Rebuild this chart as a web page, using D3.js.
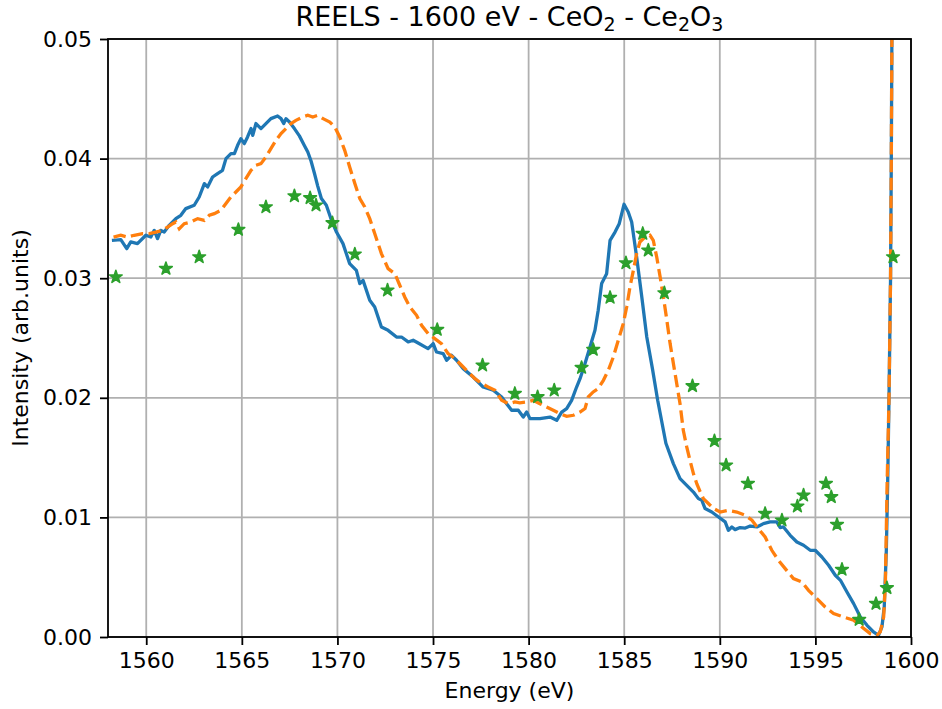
<!DOCTYPE html>
<html>
<head>
<meta charset="utf-8">
<script src="https://cdn.jsdelivr.net/npm/d3@7"></script>
<style>
  html, body { margin: 0; padding: 0; background: #fff; }
  svg { display: block; font-family: "DejaVu Sans", sans-serif; }
</style>
</head>
<body>
<svg id="chart" width="942" height="709"></svg>
<script>
// CeO2 spectrum (solid blue)
const ceo2Energy = [1558.29,1558.67,1558.98,1559.19,1559.54,1559.98,1560.24,1560.42,1560.59,1560.76,1560.94,1561.20,1561.55,1561.81,1562.07,1562.51,1562.77,1563.04,1563.21,1563.47,1563.73,1563.99,1564.17,1564.43,1564.61,1564.78,1564.95,1565.13,1565.30,1565.48,1565.57,1565.74,1566.00,1566.26,1566.52,1566.87,1567.05,1567.19,1567.31,1567.49,1567.75,1568.01,1568.27,1568.45,1568.62,1568.80,1568.97,1569.16,1569.42,1569.69,1569.95,1570.29,1570.64,1570.99,1571.17,1571.34,1571.69,1571.95,1572.30,1572.65,1573.09,1573.35,1573.70,1573.96,1574.22,1574.74,1575.01,1575.18,1575.53,1575.71,1575.97,1576.23,1576.58,1577.10,1577.62,1578.15,1578.59,1578.85,1579.11,1579.46,1579.72,1579.90,1580.07,1580.59,1581.12,1581.47,1581.73,1581.99,1582.25,1582.51,1582.69,1582.95,1583.21,1583.47,1583.64,1583.82,1584.08,1584.26,1584.52,1584.74,1584.99,1585.21,1585.39,1585.65,1585.92,1586.18,1586.48,1586.75,1587.18,1587.57,1587.92,1588.27,1588.62,1588.88,1589.06,1589.23,1589.58,1589.93,1590.28,1590.45,1590.63,1590.80,1591.06,1591.33,1591.59,1591.94,1592.28,1592.63,1592.98,1593.16,1593.33,1593.68,1594.03,1594.38,1594.73,1594.99,1595.34,1595.69,1596.04,1596.31,1596.65,1597.00,1597.35,1597.70,1598.04,1598.30,1598.48,1598.60,1598.71,1598.78,1598.85,1598.93,1598.97,1599.00,1599.03];
const ceo2Intensity = [0.03317,0.03322,0.03247,0.03303,0.03289,0.03359,0.03344,0.03400,0.03331,0.03400,0.03386,0.03442,0.03498,0.03526,0.03582,0.03610,0.03679,0.03791,0.03763,0.03846,0.03875,0.03902,0.04000,0.04042,0.04042,0.04111,0.04167,0.04125,0.04181,0.04251,0.04195,0.04293,0.04251,0.04293,0.04334,0.04356,0.04334,0.04293,0.04334,0.04306,0.04251,0.04190,0.04110,0.04055,0.03980,0.03875,0.03770,0.03666,0.03610,0.03484,0.03386,0.03289,0.03122,0.03066,0.02955,0.02982,0.02815,0.02759,0.02592,0.02564,0.02508,0.02508,0.02467,0.02481,0.02458,0.02411,0.02453,0.02383,0.02370,0.02314,0.02355,0.02314,0.02244,0.02174,0.02090,0.02063,0.02007,0.01951,0.01896,0.01896,0.01839,0.01881,0.01826,0.01826,0.01839,0.01812,0.01881,0.01910,0.01979,0.02090,0.02160,0.02286,0.02425,0.02564,0.02732,0.02955,0.03038,0.03317,0.03386,0.03456,0.03618,0.03554,0.03470,0.03177,0.02843,0.02508,0.02240,0.01980,0.01620,0.01450,0.01324,0.01268,0.01212,0.01157,0.01143,0.01074,0.01045,0.01003,0.00962,0.00892,0.00920,0.00898,0.00915,0.00911,0.00928,0.00920,0.00948,0.00962,0.00962,0.00915,0.00920,0.00850,0.00794,0.00767,0.00725,0.00725,0.00669,0.00600,0.00516,0.00474,0.00376,0.00279,0.00167,0.00098,0.00042,0.00014,0.00084,0.00251,0.00725,0.01283,0.02000,0.03000,0.04000,0.05000,0.05800];

// Ce2O3 spectrum (dashed orange)
const ce2o3Energy = [1558.29,1558.67,1559.02,1559.37,1559.81,1560.16,1560.50,1560.85,1561.12,1561.38,1561.55,1561.73,1561.99,1562.34,1562.69,1563.04,1563.30,1563.56,1563.91,1564.17,1564.43,1564.69,1564.95,1565.21,1565.48,1565.74,1566.00,1566.26,1566.52,1566.79,1567.05,1567.31,1567.57,1567.83,1568.18,1568.45,1568.71,1568.97,1569.25,1569.60,1569.86,1570.12,1570.38,1570.64,1570.91,1571.17,1571.43,1571.69,1571.95,1572.30,1572.65,1573.00,1573.26,1573.52,1573.79,1574.14,1574.40,1574.74,1575.09,1575.44,1575.79,1576.14,1576.49,1576.84,1577.19,1577.54,1577.88,1578.24,1578.59,1578.93,1579.28,1579.54,1579.90,1580.24,1580.59,1580.94,1581.29,1581.64,1581.99,1582.34,1582.69,1582.95,1583.12,1583.38,1583.64,1583.91,1584.17,1584.43,1584.69,1584.95,1585.13,1585.30,1585.48,1585.65,1585.82,1586.09,1586.35,1586.52,1586.70,1586.88,1587.05,1587.23,1587.40,1587.66,1587.92,1588.09,1588.27,1588.44,1588.62,1588.80,1588.97,1589.14,1589.32,1589.67,1590.02,1590.45,1590.89,1591.33,1591.68,1592.02,1592.37,1592.72,1593.07,1593.42,1593.85,1594.29,1594.64,1595.08,1595.51,1595.95,1596.47,1597.00,1597.43,1597.87,1598.22,1598.39,1598.57,1598.66,1598.75,1598.85,1598.93,1598.97,1599.00,1599.03];
const ce2o3Intensity = [0.03344,0.03359,0.03344,0.03359,0.03373,0.03373,0.03386,0.03400,0.03428,0.03456,0.03470,0.03414,0.03456,0.03470,0.03498,0.03484,0.03526,0.03540,0.03568,0.03624,0.03679,0.03721,0.03763,0.03833,0.03902,0.03944,0.03958,0.04013,0.04084,0.04153,0.04209,0.04251,0.04293,0.04320,0.04348,0.04362,0.04348,0.04362,0.04334,0.04306,0.04264,0.04181,0.04069,0.03930,0.03791,0.03666,0.03595,0.03498,0.03373,0.03206,0.03080,0.03039,0.02941,0.02843,0.02759,0.02690,0.02606,0.02537,0.02495,0.02453,0.02370,0.02328,0.02272,0.02216,0.02160,0.02119,0.02090,0.02063,0.01979,0.01951,0.01965,0.01958,0.01965,0.01979,0.01951,0.01923,0.01896,0.01868,0.01845,0.01854,0.01881,0.01910,0.02007,0.02049,0.02077,0.02146,0.02230,0.02341,0.02481,0.02620,0.02759,0.02926,0.03066,0.03206,0.03303,0.03344,0.03359,0.03317,0.03177,0.03010,0.02843,0.02648,0.02453,0.02202,0.01951,0.01728,0.01589,0.01477,0.01366,0.01280,0.01215,0.01157,0.01129,0.01074,0.01045,0.01059,0.01045,0.01018,0.00976,0.00906,0.00836,0.00725,0.00641,0.00572,0.00488,0.00460,0.00390,0.00321,0.00251,0.00196,0.00167,0.00140,0.00084,0.00028,0.00014,0.00042,0.00167,0.00446,0.01280,0.02000,0.03000,0.04000,0.05000,0.05800];

// Reference points (green stars)
const refEnergy = [1558.41,1561.03,1562.77,1564.82,1566.26,1567.75,1568.57,1568.88,1569.74,1570.91,1572.62,1575.22,1577.59,1579.28,1580.47,1581.34,1582.77,1583.38,1584.26,1585.09,1585.97,1586.26,1587.10,1588.57,1589.72,1590.33,1591.47,1592.37,1593.25,1594.06,1594.38,1595.55,1595.83,1596.13,1596.39,1597.29,1598.17,1598.74,1599.06];
const refIntensity = [0.03010,0.03080,0.03177,0.03406,0.03595,0.03687,0.03671,0.03610,0.03462,0.03200,0.02899,0.02570,0.02272,0.02035,0.02007,0.02063,0.02252,0.02403,0.02838,0.03127,0.03373,0.03233,0.02876,0.02099,0.01639,0.01436,0.01283,0.01032,0.00976,0.01093,0.01185,0.01283,0.01171,0.00940,0.00564,0.00145,0.00279,0.00410,0.03177];

const xTicks = [1560,1565,1570,1575,1580,1585,1590,1595,1600];
const yTicks = [0.00,0.01,0.02,0.03,0.04,0.05];

const plot = { left: 108, right: 911, top: 39, bottom: 637 };
const svg = d3.select("#chart");

const x = d3.scaleLinear().domain([1558, 1600]).range([plot.left, plot.right]);
const y = d3.scaleLinear().domain([0, 0.05]).range([plot.bottom, plot.top]);

svg.append("rect").attr("width", 942).attr("height", 709).attr("fill", "#fff");

svg.append("defs").append("clipPath").attr("id", "plotClip")
  .append("rect")
  .attr("x", plot.left).attr("y", plot.top)
  .attr("width", plot.right - plot.left).attr("height", plot.bottom - plot.top);

// grid
const grid = svg.append("g").attr("stroke", "#b0b0b0").attr("stroke-width", 1.8);
grid.selectAll("line.vx").data(xTicks).join("line")
  .attr("x1", d => x(d)).attr("x2", d => x(d))
  .attr("y1", plot.top).attr("y2", plot.bottom);
grid.selectAll("line.hy").data(yTicks).join("line")
  .attr("x1", plot.left).attr("x2", plot.right)
  .attr("y1", d => y(d)).attr("y2", d => y(d));

const toPts = (xs, ys) => xs.map((e, i) => [e, ys[i]]);
const line = d3.line().x(d => x(d[0])).y(d => y(d[1]));

const series = svg.append("g").attr("clip-path", "url(#plotClip)");
series.append("path")
  .attr("d", line(toPts(ceo2Energy, ceo2Intensity)))
  .attr("fill", "none").attr("stroke", "#1f77b4")
  .attr("stroke-width", 3.3).attr("stroke-linejoin", "round").attr("stroke-linecap", "square");
series.append("path")
  .attr("d", line(toPts(ce2o3Energy, ce2o3Intensity)))
  .attr("fill", "none").attr("stroke", "#ff7f0e")
  .attr("stroke-width", 3.3).attr("stroke-dasharray", "12.5,5.4");

const star = d3.symbol().type(d3.symbolStar).size(50);
series.selectAll("path.ref").data(toPts(refEnergy, refIntensity)).join("path")
  .attr("class", "ref")
  .attr("d", star)
  .attr("transform", d => `translate(${x(d[0])},${y(d[1])})`)
  .attr("fill", "#2ca02c").attr("stroke", "#2ca02c").attr("stroke-width", 1.6)
  .attr("stroke-linejoin", "round");

// axes
const fontSize = 22;
const xAxis = d3.axisBottom(x).tickValues(xTicks).tickFormat(d3.format("d")).tickSizeInner(8).tickSizeOuter(0).tickPadding(7);
const yAxis = d3.axisLeft(y).tickValues(yTicks).tickFormat(d3.format(".2f")).tickSizeInner(8).tickSizeOuter(0).tickPadding(8);

const gx = svg.append("g").attr("transform", `translate(0,${plot.bottom})`).call(xAxis);
const gy = svg.append("g").attr("transform", `translate(${plot.left},0)`).call(yAxis);
[gx, gy].forEach(g => {
  g.select(".domain").remove();
  g.selectAll(".tick line").attr("stroke", "#000").attr("stroke-width", 1.8);
  g.selectAll(".tick text").attr("fill", "#000")
    .attr("font-family", "DejaVu Sans").attr("font-size", fontSize);
});

// frame
svg.append("rect")
  .attr("x", plot.left).attr("y", plot.top)
  .attr("width", plot.right - plot.left).attr("height", plot.bottom - plot.top)
  .attr("fill", "none").attr("stroke", "#000").attr("stroke-width", 1.8);

// labels
svg.append("text")
  .attr("x", (plot.left + plot.right) / 2).attr("y", 698)
  .attr("text-anchor", "middle").attr("font-size", fontSize).attr("fill", "#000")
  .text("Energy (eV)");

svg.append("text")
  .attr("transform", `translate(28,${(plot.top + plot.bottom) / 2}) rotate(-90)`)
  .attr("text-anchor", "middle").attr("font-size", fontSize).attr("fill", "#000")
  .text("Intensity (arb.units)");

const title = svg.append("text")
  .attr("x", (plot.left + plot.right) / 2).attr("y", 26)
  .attr("text-anchor", "middle").attr("font-size", 27).attr("fill", "#000");
const subSize = 19;
title.append("tspan").text("REELS - 1600 eV - CeO");
title.append("tspan").attr("font-size", subSize).attr("dy", 5).text("2");
title.append("tspan").attr("dy", -5).text(" - Ce");
title.append("tspan").attr("font-size", subSize).attr("dy", 5).text("2");
title.append("tspan").attr("dy", -5).text("O");
title.append("tspan").attr("font-size", subSize).attr("dy", 5).text("3");
</script>
</body>
</html>
